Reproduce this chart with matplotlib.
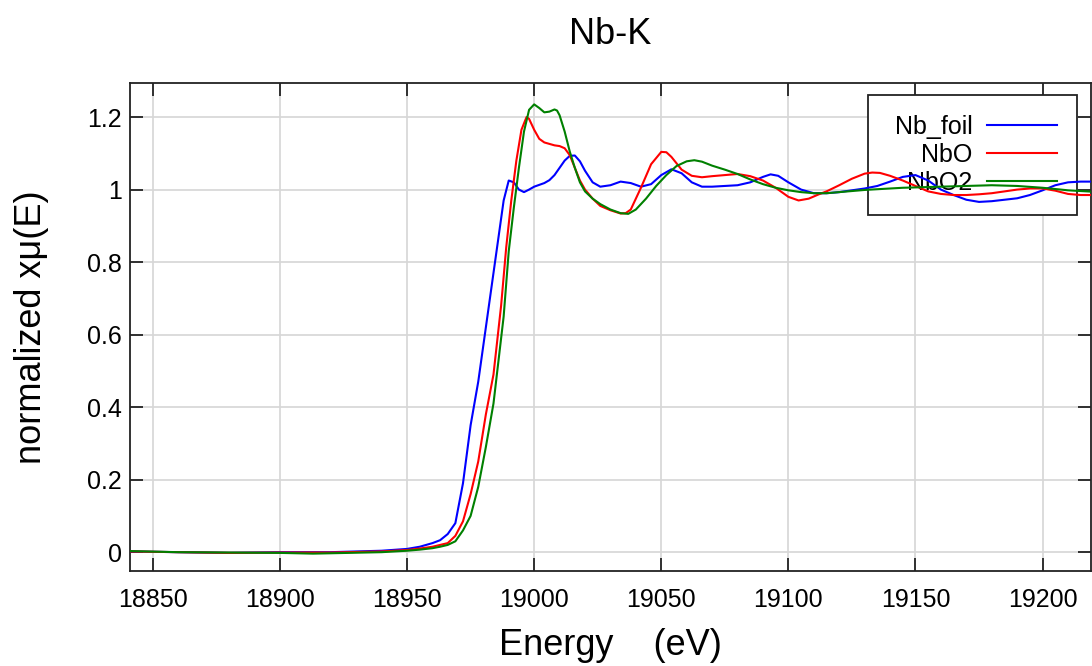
import numpy as np
import matplotlib
matplotlib.use('Agg')
import matplotlib.pyplot as plt

plt.rcParams['font.family'] = ['Liberation Sans', 'DejaVu Sans']

# Nb_foil
energy_foil = [18841, 18860, 18880, 18900, 18920, 18940, 18950, 18955, 18960, 18963,
               18966, 18969, 18972, 18975, 18978, 18981, 18984, 18986, 18988, 18990,
               18992, 18994, 18996, 18998, 19000, 19002, 19004, 19006, 19008, 19010,
               19012, 19014, 19016, 19018, 19020, 19023, 19026, 19030, 19034, 19038,
               19042, 19046, 19050, 19054, 19058, 19062, 19066, 19070, 19075, 19080,
               19085, 19090, 19093, 19096, 19100, 19105, 19110, 19115, 19120, 19125,
               19130, 19135, 19140, 19145, 19150, 19155, 19160, 19165, 19170, 19175,
               19180, 19185, 19190, 19195, 19200, 19205, 19210, 19215, 19220]
mu_foil = [0.002, 0.000, -0.002, 0.000, 0.000, 0.004, 0.009, 0.015, 0.025, 0.033,
           0.050, 0.080, 0.190, 0.350, 0.470, 0.620, 0.770, 0.870, 0.970, 1.025,
           1.020, 1.000, 0.993, 1.000, 1.008, 1.013, 1.018, 1.026, 1.040, 1.060,
           1.080, 1.093, 1.094, 1.078, 1.052, 1.020, 1.008, 1.012, 1.022, 1.018,
           1.008, 1.015, 1.040, 1.056, 1.045, 1.020, 1.008, 1.008, 1.010, 1.012,
           1.020, 1.035, 1.042, 1.038, 1.020, 1.000, 0.990, 0.990, 0.993, 0.998,
           1.003, 1.010, 1.022, 1.035, 1.040, 1.025, 1.000, 0.985, 0.972, 0.966,
           0.968, 0.972, 0.976, 0.985, 0.998, 1.012, 1.020, 1.022, 1.022]

# NbO
energy_nbo = [18841, 18860, 18880, 18900, 18920, 18940, 18950, 18955, 18960, 18963,
              18966, 18969, 18972, 18975, 18978, 18981, 18984, 18987, 18989, 18991,
              18993, 18995, 18997, 18998, 19000, 19002, 19004, 19006, 19008, 19010,
              19012, 19014, 19016, 19018, 19020, 19023, 19026, 19030, 19034, 19036,
              19038, 19042, 19046, 19050, 19052, 19054, 19058, 19062, 19066, 19070,
              19075, 19080, 19085, 19090, 19095, 19100, 19104, 19108, 19112, 19115,
              19120, 19125, 19130, 19133, 19136, 19140, 19145, 19150, 19155, 19160,
              19165, 19170, 19175, 19180, 19185, 19190, 19195, 19200, 19205, 19210,
              19215, 19220]
mu_nbo = [0.002, 0.000, -0.002, -0.001, -0.001, 0.002, 0.006, 0.010, 0.015, 0.020,
          0.025, 0.045, 0.085, 0.160, 0.250, 0.380, 0.490, 0.680, 0.840, 0.970,
          1.080, 1.165, 1.200, 1.195, 1.165, 1.140, 1.130, 1.126, 1.122, 1.120,
          1.114, 1.095, 1.060, 1.025, 1.000, 0.975, 0.955, 0.943, 0.934, 0.935,
          0.945, 1.005, 1.070, 1.104, 1.103, 1.090, 1.055, 1.038, 1.034, 1.037,
          1.040, 1.043, 1.037, 1.025, 1.005, 0.980, 0.970, 0.975, 0.987, 0.995,
          1.012, 1.030, 1.044, 1.047, 1.046, 1.038, 1.025, 1.010, 0.995, 0.988,
          0.985, 0.985, 0.987, 0.990, 0.995, 1.000, 1.003, 1.003, 0.997, 0.988,
          0.985, 0.985]

# NbO2
energy_nbo2 = [18841, 18860, 18880, 18900, 18913, 18920, 18940, 18950, 18955, 18960,
               18963, 18966, 18969, 18972, 18975, 18978, 18981, 18984, 18986, 18988,
               18990, 18992, 18994, 18996, 18998, 19000, 19002, 19004, 19006, 19008,
               19009, 19010, 19012, 19014, 19016, 19018, 19020, 19023, 19026, 19030,
               19034, 19037, 19040, 19044, 19048, 19052, 19056, 19060, 19063, 19066,
               19070, 19075, 19080, 19085, 19090, 19095, 19100, 19105, 19110, 19115,
               19120, 19125, 19130, 19135, 19140, 19145, 19150, 19155, 19160, 19170,
               19180, 19190, 19200, 19210, 19220]
mu_nbo2 = [0.003, 0.000, -0.001, -0.002, -0.004, -0.003, 0.000, 0.004, 0.007, 0.011,
           0.015, 0.020, 0.030, 0.060, 0.100, 0.180, 0.290, 0.410, 0.530, 0.650,
           0.830, 0.950, 1.060, 1.160, 1.220, 1.235, 1.225, 1.213, 1.215, 1.221,
           1.218, 1.205, 1.160, 1.105, 1.060, 1.020, 0.995, 0.975, 0.960, 0.945,
           0.935, 0.933, 0.945, 0.975, 1.010, 1.040, 1.065, 1.078, 1.081, 1.077,
           1.066, 1.055, 1.043, 1.028, 1.015, 1.005, 0.998, 0.993, 0.990, 0.990,
           0.993, 0.996, 0.999, 1.001, 1.003, 1.005, 1.006, 1.007, 1.008, 1.010,
           1.012, 1.010, 1.005, 0.998, 0.994]

x_ticks = [18850, 18900, 18950, 19000, 19050, 19100, 19150, 19200]
y_ticks = [0, 0.2, 0.4, 0.6, 0.8, 1.0, 1.2]
y_tick_labels = ['0', '0.2', '0.4', '0.6', '0.8', '1', '1.2']


fig = plt.figure(figsize=(10.92, 6.66), dpi=100)
ax = fig.add_axes([0.119, 0.1426, 0.880, 0.7328])

# leading space widens the legend box like the original
ax.plot(energy_foil, mu_foil, color='blue', linewidth=1.5, label=' Nb_foil', zorder=6)
ax.plot(energy_nbo, mu_nbo, color='red', linewidth=1.5, label='NbO', zorder=6)
ax.plot(energy_nbo2, mu_nbo2, color='green', linewidth=1.5, label='NbO2', zorder=6)

ax.set_xlim(18841, 19219)
ax.set_ylim(-0.052, 1.294)
ax.set_xticks(x_ticks)
ax.set_xticklabels([str(t) for t in x_ticks])
ax.set_yticks(y_ticks)
ax.set_yticklabels(y_tick_labels)

ax.set_axisbelow(True)
ax.grid(True, color='#d6d6d6', linewidth=1.2)
ax.tick_params(direction='in', length=9.5, width=1.3, top=True, right=True,
               labelsize=18, colors='#222222')
ax.tick_params(axis='x', pad=12, labelcolor='black')
ax.tick_params(axis='y', pad=6, labelcolor='black')
for s in ax.spines.values():
    s.set_linewidth(1.3)
    s.set_color('#222222')

ax.set_title('Nb-K', fontsize=26, pad=28)
ax.set_xlabel('Energy    (eV)', fontsize=26, labelpad=12)
ax.set_ylabel('normalized xμ(E)', fontsize=26, labelpad=27)

leg = ax.legend(loc='upper right', bbox_to_anchor=(0.986, 0.975), borderaxespad=0,
                fontsize=18, markerfirst=False, handlelength=2.8, handletextpad=0.6,
                labelspacing=0.15, borderpad=0.8, fancybox=False, framealpha=1,
                edgecolor='#222222')
leg.get_frame().set_linewidth(1.3)
leg.set_zorder(5)
for t in leg.get_texts():
    t.set_horizontalalignment('right')

fig.savefig('out.png', dpi=100)
